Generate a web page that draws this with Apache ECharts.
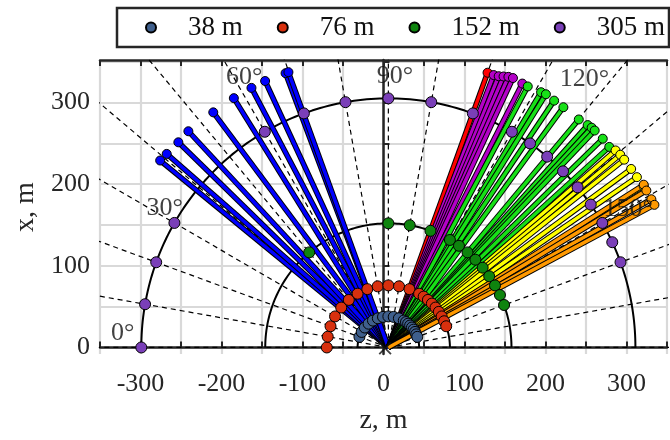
<!DOCTYPE html>
<html><head><meta charset="utf-8">
<script src="https://cdn.jsdelivr.net/npm/echarts@6/dist/echarts.min.js"></script>
<style>html,body{margin:0;padding:0;background:#fff}#c{width:670px;height:440px}</style>
</head><body><div id="c"></div>
<script>
// ---------- data ----------
const CENTER = [6, 0];
const ringNames = ['38 m', '76 m', '152 m', '305 m'];
const ringRadii = [38, 76, 152, 305];
const ringColors = ['#3f5f8c', '#d8300e', '#0e840e', '#7a3fb8'];
const ringAngles38 = [20, 30, 40, 50, 60, 70, 80, 90, 100, 110, 120, 125, 130, 135, 140, 145, 150, 155, 160];
const ringAngles76 = [0, 10, 20, 30, 40, 50, 60, 70, 80, 90, 100, 110, 120, 125, 130, 135, 140, 145, 150, 155, 160];
const ringAngles152 = [50, 90, 100, 110, 120, 125, 130, 135, 140, 145, 150, 155, 160];
const ringAngles305 = [0, 10, 20, 30, 60, 70, 80, 90, 100, 110, 120, 125, 130, 135, 140, 145, 150, 155, 160];
const dashAngles = [0, 10, 20, 30, 40, 50, 60, 70, 80, 90, 100, 110, 120, 130, 140, 150, 160, 170, 180];
const angleLabelText = ['0°', '30°', '60°', '90°', '120°', '150°'];
const angleLabelPos = [[-322, 18], [-270, 170], [-172, 331], [14, 332], [248, 328], [302, 169]];

const blueAngles = [39.1, 40.9, 44.1, 47.0, 53.1, 58.0, 62.0, 65.0, 69.3, 69.9];
const blueLengths = [363, 362, 361, 362, 360, 360, 360, 360, 359, 359];
const redAngles = [110.0];
const redLengths = [358];
const magentaAngles = [111.3, 112.3, 113.2, 114.1, 115.0, 117.1];
const magentaLengths = [358, 359, 361, 363, 364, 363];
const greenAngles = [118.3, 121.1, 122.1, 124.1, 126.3, 130.1, 132.1, 133.0, 133.8, 136.0, 138.0];
const greenLengths = [363, 365, 366, 365, 365, 365, 367, 368, 368, 368, 367];
const yellowAngles = [139.3, 140.5, 141.7, 143.9, 145.8, 147.9];
const yellowLengths = [370, 371, 371, 371, 371, 372];
const orangeAngles = [147.7, 148.9, 150.8, 152.0];
const orangeLengths = [373, 372, 372, 372];

const yTicks = [0, 50, 100, 150, 200, 250, 300, 350];
const yLabels = [0, 100, 200, 300];

// ---------- helpers ----------
const rad = d => d * Math.PI / 180;
const toZX = (phi, r) => [CENTER[0] - r * Math.cos(rad(phi)), CENTER[1] + r * Math.sin(rad(phi))];
const FONT = '"Liberation Serif", "Times New Roman", serif';
const INK = '#262626';

const series = [];
// dashed radial guides
dashAngles.forEach(a => {
  series.push({ type: 'line', z: 1, silent: true, symbol: 'none', animation: false,
    data: [CENTER, toZX(a, 700)],
    lineStyle: { color: '#000', width: 1.2, type: [5, 4] } });
});
// arcs
ringRadii.forEach(r => {
  const pts = [];
  for (let a = 0; a <= 180; a += 1) pts.push(toZX(a, r));
  series.push({ type: 'line', z: 2, silent: true, symbol: 'none', animation: false,
    data: pts, lineStyle: { color: '#000', width: 2 } });
});
// rays
const rayGroups = [
  [blueAngles, blueLengths, '#0000ff'],
  [redAngles, redLengths, '#ff0000'],
  [magentaAngles, magentaLengths, '#b400c8'],
  [greenAngles, greenLengths, '#17e017'],
  [yellowAngles, yellowLengths, '#ffff00'],
  [orangeAngles, orangeLengths, '#ff9900']
];
rayGroups.forEach(([angs, lens, col]) => {
  angs.forEach((a, i) => {
    const end = toZX(a, lens[i]);
    series.push({ type: 'line', z: 3, silent: true, symbol: 'none', animation: false,
      data: [CENTER, end], lineStyle: { color: '#000', width: 5.5 } });
    series.push({ type: 'line', z: 3, silent: true, animation: false,
      data: [{ value: CENTER, symbol: 'none' }, { value: end }],
      symbol: 'circle', symbolSize: 9, showSymbol: true,
      itemStyle: { color: col, borderColor: '#000', borderWidth: 1 },
      lineStyle: { color: col, width: 3.5 } });
  });
});
// ring measurement dots
const ringAngleSets = [ringAngles38, ringAngles76, ringAngles152, ringAngles305];
ringNames.forEach((nm, k) => {
  series.push({ type: 'scatter', z: 4, name: nm, animation: false, symbol: 'circle', symbolSize: 11,
    data: ringAngleSets[k].map(a => toZX(a, ringRadii[k])),
    itemStyle: { color: ringColors[k], borderColor: '#000', borderWidth: 1, opacity: 1 } });
});
// source marker
series.push({ type: 'scatter', z: 5, silent: true, animation: false, data: [[CENTER[0] - 4, -1]],
  symbol: 'path://M0,1L1,0L5,4L9,0L10,1L6,5L10,9L9,10L5,6L1,10L0,9L4,5Z', symbolSize: 13,
  itemStyle: { color: '#111' } });
// angle labels
series.push({ type: 'scatter', z: 6, silent: true, animation: false, symbolSize: 0,
  data: angleLabelPos.map((p, i) => ({ value: p, name: angleLabelText[i] })),
  label: { show: true, position: 'inside', formatter: p => p.name,
    fontFamily: FONT, fontSize: 26, color: '#111' } });

const chart = echarts.init(document.getElementById('c'), null, { renderer: 'canvas' });
const axisCommon = {
  axisLine: { show: true, lineStyle: { color: INK, width: 2.5 } },
  axisTick: { show: true, inside: true, length: 6, lineStyle: { color: INK, width: 2 } }
};
chart.setOption({
  animation: false,
  backgroundColor: '#fff',
  grid: { left: 100, top: 60, width: 581, height: 300, containLabel: false },
  legend: {
    data: ringNames, left: 117, top: 8, width: 620, orient: 'horizontal',
    padding: [6, 4, 6, 28], itemGap: 34, itemWidth: 10, itemHeight: 10,
    borderColor: INK, borderWidth: 2.5, backgroundColor: '#fff',
    textStyle: { fontFamily: FONT, fontSize: 27, color: '#111', padding: [0, 0, 0, 27] }
  },
  xAxis: [
    Object.assign({ type: 'value', min: -350, max: 350, interval: 50, position: 'bottom',
      name: 'z, m', nameLocation: 'middle', nameGap: 53,
      nameTextStyle: { fontFamily: FONT, fontSize: 28, color: INK },
      axisLabel: { fontFamily: FONT, fontSize: 26, color: INK, margin: 17,
        formatter: v => (v % 100 === 0 && Math.abs(v) < 350) ? String(v) : '' },
      splitLine: { show: true, lineStyle: { color: '#d9d9d9', width: 2.2 } } }, axisCommon),
    Object.assign({ type: 'value', min: -350, max: 350, interval: 50, position: 'top',
      axisLabel: { show: false }, splitLine: { show: false } }, axisCommon)
  ],
  yAxis: [
    Object.assign({ type: 'value', min: -8, max: 352, position: 'left',
      name: 'x, m', nameLocation: 'middle', nameGap: 58, nameRotate: 90,
      nameTextStyle: { fontFamily: FONT, fontSize: 28, color: INK },
      axisLabel: { fontFamily: FONT, fontSize: 26, color: INK, margin: 10, customValues: yLabels },
      splitLine: { show: true, lineStyle: { color: '#d9d9d9', width: 2.2 } } }, axisCommon,
      { axisTick: { show: true, inside: true, length: 6, customValues: yTicks, lineStyle: { color: INK, width: 2 } } })
  ],
  series: series
});
</script></body></html>
